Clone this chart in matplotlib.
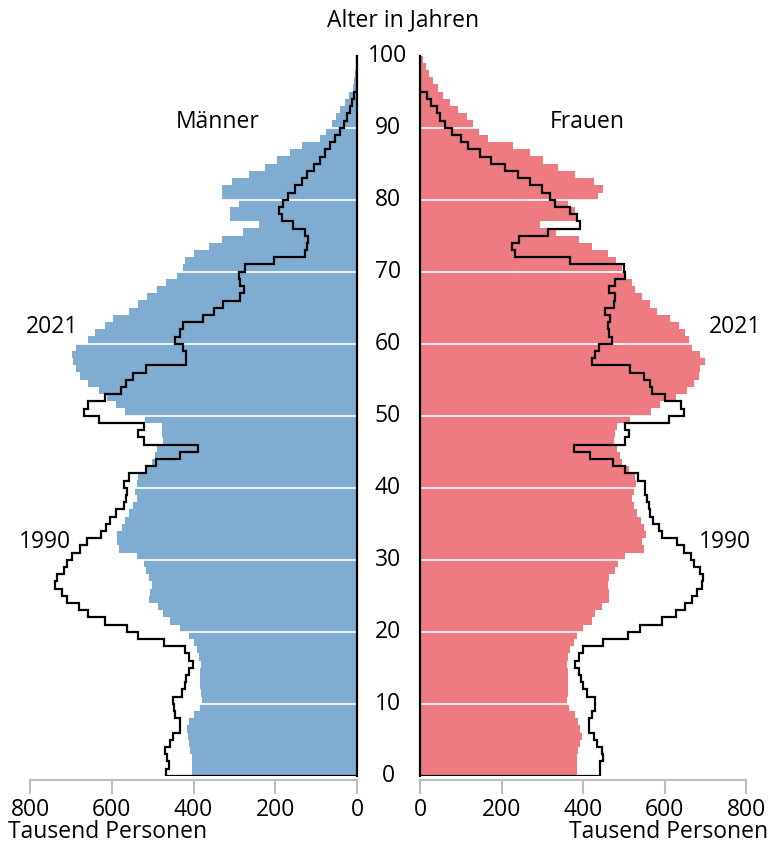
import numpy as np
import matplotlib
matplotlib.use("Agg")
from matplotlib import pyplot as plt
from matplotlib import transforms

plt.rcParams['font.family'] = ['Open Sans', 'DejaVu Sans']

ages = np.arange(100)

# Tausend Personen, Alter 0..99
maenner_2021 = [404, 404, 404, 408, 412, 414, 416, 412, 400, 385,
                380, 382, 384, 385, 384, 381, 386, 392, 400, 412,
                433, 457, 474, 486, 508, 506, 502, 510, 516, 522,
                539, 583, 586, 588, 575, 567, 559, 547, 539, 543,
                539, 535, 518, 502, 494, 490, 474, 478, 478, 518,
                567, 589, 612, 630, 659, 677, 687, 694, 698, 687,
                657, 641, 616, 596, 557, 535, 514, 490, 468, 441,
                426, 420, 400, 361, 331, 280, 239, 310, 310, 288,
                331, 331, 305, 263, 225, 196, 165, 135, 90, 76,
                62, 51, 42, 29, 19, 11, 7, 5, 3, 2]
maenner_1990 = [467, 461, 465, 469, 457, 449, 433, 434, 445, 447,
                449, 429, 422, 418, 412, 402, 410, 421, 472, 535,
                563, 616, 657, 681, 710, 722, 739, 734, 718, 710,
                697, 677, 661, 626, 614, 604, 589, 571, 566, 563,
                570, 557, 517, 491, 434, 388, 521, 535, 522, 630,
                669, 659, 616, 578, 565, 547, 516, 418, 418, 426,
                445, 433, 426, 377, 351, 328, 286, 276, 286, 288,
                274, 203, 127, 123, 121, 127, 156, 184, 190, 182,
                170, 152, 135, 123, 106, 90, 78, 66, 54, 42,
                33, 25, 17, 13, 8, 0, 0, 0, 0, 0]
frauen_2021 = [385, 385, 385, 387, 393, 397, 393, 387, 381, 366,
               360, 364, 363, 364, 364, 360, 364, 369, 377, 385,
               401, 422, 430, 446, 463, 463, 461, 463, 479, 487,
               504, 549, 546, 554, 549, 543, 532, 524, 520, 524,
               530, 528, 512, 496, 491, 483, 475, 479, 483, 516,
               568, 590, 627, 655, 672, 685, 688, 699, 688, 667,
               659, 651, 635, 614, 581, 565, 545, 528, 520, 504,
               496, 481, 461, 422, 389, 333, 295, 385, 381, 364,
               436, 448, 428, 381, 338, 303, 270, 229, 166, 145,
               129, 115, 94, 74, 57, 43, 33, 23, 15, 8]
frauen_1990 = [442, 442, 448, 446, 434, 428, 414, 414, 423, 430,
               430, 410, 401, 396, 389, 381, 391, 401, 450, 510,
               541, 594, 627, 651, 667, 680, 692, 694, 688, 672,
               666, 647, 631, 594, 586, 573, 565, 561, 557, 551,
               553, 536, 504, 473, 418, 378, 504, 512, 504, 612,
               649, 641, 602, 569, 565, 549, 516, 423, 430, 440,
               471, 463, 461, 467, 455, 475, 479, 463, 479, 502,
               500, 369, 233, 225, 243, 315, 393, 385, 369, 332,
               319, 299, 270, 240, 209, 174, 147, 117, 101, 78,
               61, 49, 41, 27, 16, 0, 0, 0, 0, 0]

x_ticks = [0, 200, 400, 600, 800]
age_ticks = list(range(0, 101, 10))

blue = '#80acd1'
red = '#ee7b82'
W, H = 775, 844
fs = 16.5


def step_xy(vals):
    xs = np.concatenate([[0], np.repeat(vals, 2), [0]])
    ys = np.concatenate([[0], np.ravel(np.column_stack([ages, ages + 1])), [100]])
    return xs, ys


fig = plt.figure(figsize=(W / 100, H / 100), dpi=100)
ax_m = fig.add_axes([30 / W, 68.3 / H, 327 / W, 720 / H])
ax_f = fig.add_axes([420 / W, 68.3 / H, 326 / W, 720 / H])

for ax, v21, v90, col in [(ax_m, maenner_2021, maenner_1990, blue),
                          (ax_f, frauen_2021, frauen_1990, red)]:
    ax.barh(ages, v21, height=1, align='edge', color=col, linewidth=0, zorder=1)
    for a in age_ticks[1:-1]:
        ax.axhline(a, color='white', lw=1.2, zorder=2)
    xs, ys = step_xy(v90)
    ax.plot(xs, ys, color='black', lw=1.6, zorder=3, solid_joinstyle='miter')
    ax.set_ylim(0, 100)
    ax.set_yticks([])
    ax.set_xticks(x_ticks)
    ax.tick_params(axis='x', direction='out', length=10, width=1.5,
                   color='#bdbdbd', labelsize=fs, pad=3)
    ax.spines['top'].set_visible(False)
    ax.spines['bottom'].set_color('#bdbdbd')
    ax.spines['bottom'].set_linewidth(1.5)
    ax.spines['bottom'].set_position(('outward', 3))

ax_m.set_xlim(800, 0)
ax_m.spines['left'].set_visible(False)
ax_m.spines['right'].set_linewidth(1.6)
ax_f.set_xlim(0, 800)
ax_f.spines['right'].set_visible(False)
ax_f.spines['left'].set_linewidth(1.6)

# Altersbeschriftung zwischen den Pyramidenhälften
tr = transforms.blended_transform_factory(fig.transFigure, ax_f.transData)
for a in age_ticks:
    fig.text(388 / W, a, str(a), transform=tr, ha='center', va='center', fontsize=fs)
fig.text(403 / W, 1 - 20 / H, 'Alter in Jahren', ha='center', va='center', fontsize=fs)

ax_m.text(340, 90.8, 'Männer', ha='center', va='center', fontsize=fs)
ax_f.text(410, 90.8, 'Frauen', ha='center', va='center', fontsize=fs)
ax_m.text(746, 62.3, '2021', ha='center', va='center', fontsize=fs, clip_on=False)
ax_f.text(774, 62.3, '2021', ha='center', va='center', fontsize=fs, clip_on=False)
ax_m.text(763, 32.5, '1990', ha='center', va='center', fontsize=fs, clip_on=False)
ax_f.text(749, 32.5, '1990', ha='center', va='center', fontsize=fs, clip_on=False)

fig.text(8 / W, 1 - 832 / H, 'Tausend Personen', ha='left', va='center', fontsize=fs)
fig.text(768 / W, 1 - 832 / H, 'Tausend Personen', ha='right', va='center', fontsize=fs)

fig.savefig('out.png', dpi=100)
